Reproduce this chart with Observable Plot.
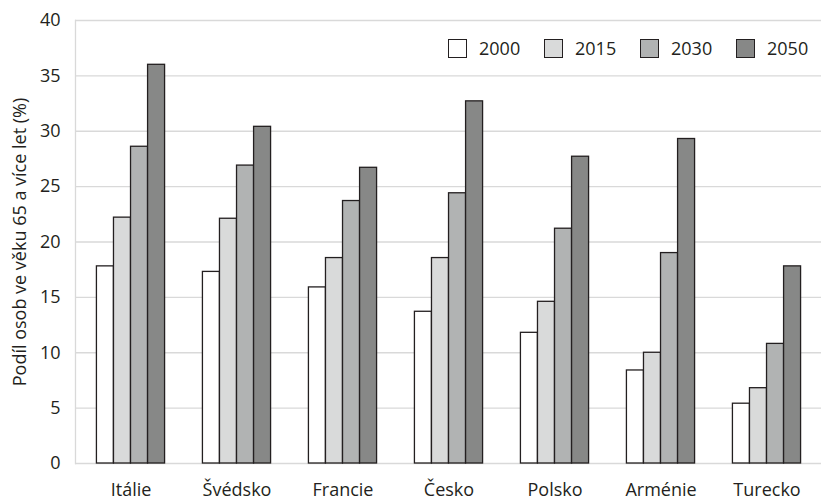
<!DOCTYPE html>
<html><head><meta charset="utf-8">
<script src="https://cdn.jsdelivr.net/npm/d3@7"></script>
<script src="https://cdn.jsdelivr.net/npm/@observablehq/plot@0.6"></script>
<style>
body{margin:0;background:#fff;}
#wrap{position:relative;width:821px;height:500px;font-family:"Open Sans",sans-serif;color:#231f20;}
#legend{position:absolute;top:38px;left:448px;display:flex;}
.item{width:96px;display:flex;align-items:center;height:20px;font-size:18px;}
.sw{width:17px;height:17px;border:1.3px solid #231f20;margin-right:12px;box-sizing:content-box;}
</style></head><body><div id="wrap"></div>
<script>
const countries = ["Itálie","Švédsko","Francie","Česko","Polsko","Arménie","Turecko"];
const years = ["2000","2015","2030","2050"];
const v2000 = [17.8,17.3,15.9,13.7,11.8,8.4,5.4];
const v2015 = [22.2,22.1,18.55,18.55,14.6,10.0,6.8];
const v2030 = [28.6,26.9,23.7,24.4,21.2,19.0,10.8];
const v2050 = [36.0,30.4,26.7,32.7,27.7,29.3,17.8];
const yTicks = [0,5,10,15,20,25,30,35,40];
const colors = ["#ffffff","#d9dada","#b1b3b3","#878887"];
const yLabel = "Podíl osob ve věku 65 a více let (%)";

const series = [v2000, v2015, v2030, v2050];
const W = 821, H = 500, mL = 75, mR = 0, mT = 20, mB = 37;
const pad = 0.84;
const step = (W - mL - mR) / countries.length;
const bw = step * (1 - pad);

const barMarks = years.map((yr, i) => Plot.barY(
  countries.map((c, j) => ({country: c, year: yr, value: series[i][j]})),
  {x: "country", y: "value", fill: colors[i], stroke: "#231f20", strokeWidth: 1.3, dx: (i - 1.5) * bw}
));

const chart = Plot.plot({
  width: W, height: H,
  marginLeft: mL, marginRight: mR, marginTop: mT, marginBottom: mB,
  style: {fontFamily: "'Open Sans', sans-serif", fontSize: "18px", color: "#231f20", background: "#fff"},
  x: {domain: countries, paddingInner: pad, paddingOuter: pad / 2, label: null},
  y: {domain: [0, 40], label: null},
  marks: [
    Plot.ruleY(yTicks, {stroke: "#d9d9d9", strokeWidth: 1.3}),
    Plot.frame({anchor: "left", stroke: "#d9d9d9", strokeWidth: 1.3}),
    ...barMarks,
    Plot.axisY({ticks: yTicks, tickSize: 0, tickPadding: 15, fontSize: 18, label: null}),
    Plot.axisY({ticks: [], label: yLabel, labelAnchor: "center", labelArrow: "none", labelOffset: 62, fontSize: 18}),
    Plot.axisX({tickSize: 0, tickPadding: 20, fontSize: 18, label: null})
  ]
});
const wrap = document.getElementById("wrap");
wrap.appendChild(chart);
const leg = document.createElement("div");
leg.id = "legend";
years.forEach((yr, i) => {
  const it = document.createElement("div");
  it.className = "item";
  const sw = document.createElement("div");
  sw.className = "sw";
  sw.style.background = colors[i];
  const t = document.createElement("span");
  t.textContent = yr;
  it.appendChild(sw); it.appendChild(t);
  leg.appendChild(it);
});
wrap.appendChild(leg);
</script></body></html>
